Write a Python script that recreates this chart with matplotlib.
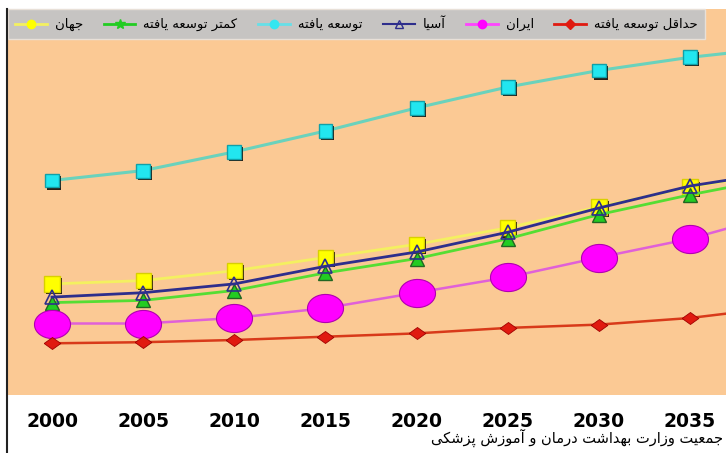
import numpy as np
import matplotlib
matplotlib.use("Agg")
import matplotlib.pyplot as plt
from matplotlib.lines import Line2D
import matplotlib.patheffects as pe

# share of population (percent)
years = [2000, 2005, 2010, 2015, 2020, 2025, 2030, 2035, 2040]
developed = [19.5, 20.4, 22.1, 24.0, 26.1, 28.0, 29.5, 30.7, 31.6]
asia = [8.9, 9.3, 10.1, 11.7, 13.0, 14.8, 17.0, 19.0, 20.3]
less_developed = [8.4, 8.6, 9.5, 11.1, 12.4, 14.2, 16.4, 18.2, 19.8]
world = [10.1, 10.4, 11.3, 12.5, 13.7, 15.2, 17.1, 18.9, 20.3]
iran = [6.5, 6.5, 7.0, 7.9, 9.3, 10.7, 12.5, 14.2, 16.5]
least_developed = [4.7, 4.8, 5.0, 5.3, 5.6, 6.1, 6.4, 7.0, 8.0]

tick_years = [2000, 2005, 2010, 2015, 2020, 2025, 2030, 2035]

lbl_world = "جهان"
lbl_less = "کمتر توسعه یافته"
lbl_dev = "توسعه یافته"
lbl_asia = "آسیا"
lbl_iran = "ایران"
lbl_least = "حداقل توسعه یافته"
source = "جمعیت وزارت بهداشت درمان و آموزش پزشکی"

# matplotlib has no RTL shaping, so pick presentation forms by hand
FORMS = {
    'ا': ('\uFE8D', '\uFE8E'), 'آ': ('\uFE81', '\uFE82'),
    'د': ('\uFEA9', '\uFEAA'), 'ر': ('\uFEAD', '\uFEAE'),
    'ز': ('\uFEAF', '\uFEB0'), 'و': ('\uFEED', '\uFEEE'),
    'ب': ('\uFE8F', '\uFE90', '\uFE91', '\uFE92'),
    'پ': ('\uFB56', '\uFB57', '\uFB58', '\uFB59'),
    'ت': ('\uFE95', '\uFE96', '\uFE97', '\uFE98'),
    'ج': ('\uFE9D', '\uFE9E', '\uFE9F', '\uFEA0'),
    'ح': ('\uFEA1', '\uFEA2', '\uFEA3', '\uFEA4'),
    'س': ('\uFEB1', '\uFEB2', '\uFEB3', '\uFEB4'),
    'ش': ('\uFEB5', '\uFEB6', '\uFEB7', '\uFEB8'),
    'ع': ('\uFEC9', '\uFECA', '\uFECB', '\uFECC'),
    'ف': ('\uFED1', '\uFED2', '\uFED3', '\uFED4'),
    'ق': ('\uFED5', '\uFED6', '\uFED7', '\uFED8'),
    'ک': ('\uFB8E', '\uFB8F', '\uFB90', '\uFB91'),
    'ل': ('\uFEDD', '\uFEDE', '\uFEDF', '\uFEE0'),
    'م': ('\uFEE1', '\uFEE2', '\uFEE3', '\uFEE4'),
    'ن': ('\uFEE5', '\uFEE6', '\uFEE7', '\uFEE8'),
    'ه': ('\uFEE9', '\uFEEA', '\uFEEB', '\uFEEC'),
    'ی': ('\uFBFC', '\uFBFD', '\uFBFE', '\uFBFF'),
}


def fa(s):
    out = []
    for i, ch in enumerate(s):
        f = FORMS.get(ch)
        if f is None:
            out.append(ch)
            continue
        prev = s[i - 1] if i > 0 else ''
        nxt = s[i + 1] if i + 1 < len(s) else ''
        jp = prev in FORMS and len(FORMS[prev]) == 4
        jn = len(f) == 4 and nxt in FORMS
        if len(f) == 2:
            out.append(f[1] if jp else f[0])
        elif jp and jn:
            out.append(f[3])
        elif jp:
            out.append(f[1])
        elif jn:
            out.append(f[2])
        else:
            out.append(f[0])
    return ''.join(out[::-1])


t = np.linspace(0, 2 * np.pi, 40)
ellipse = np.column_stack([np.cos(t), 0.78 * np.sin(t)])
diamond = [(-1, 0), (0, 0.72), (1, 0), (0, -0.72), (-1, 0)]

peach = '#fbc994'
shadow = [pe.SimplePatchShadow(offset=(1.5, -1.5), shadow_rgbFace='k', alpha=0.85), pe.Normal()]

fig = plt.figure(figsize=(7.26, 4.53), dpi=100)
ax = fig.add_axes([8 / 726, 1 - 395 / 453, 718 / 726, 386 / 453])
ax.set_facecolor(peach)

ax.plot(years, world, color='#f4f060', lw=2, zorder=2)
ax.plot(years, world, ls='none', marker='s', ms=11, mfc='#ffff00', mec='#d8d000',
        path_effects=shadow, zorder=2.1)

ax.plot(years, less_developed, color='#55dd33', lw=2, zorder=3)
ax.plot(years, less_developed, ls='none', marker='^', ms=10, mfc='#22cc22', mec='#226622',
        zorder=3.1)

ax.plot(years, asia, color='#2e2e8c', lw=2, zorder=4)
ax.plot(years, asia, ls='none', marker='^', ms=10, mfc='none', mec='#2e2e8c', mew=1.2,
        zorder=4.1)

ax.plot(years, iran, color='#e060d8', lw=1.8, zorder=5)
ax.plot(years, iran, ls='none', marker=ellipse, ms=26, mfc='#ff00ff', mec='#b000b0',
        mew=0.8, zorder=5.1)

ax.plot(years, least_developed, color='#d83a1a', lw=1.8, zorder=5)
ax.plot(years, least_developed, ls='none', marker=diamond, ms=12, mfc='#e01a10',
        mec='#a00000', mew=0.6, zorder=5.1)

ax.plot(years, developed, color='#6ad2bc', lw=2.2, zorder=6)
ax.plot(years, developed, ls='none', marker='s', ms=10, mfc='#22e6f0', mec='#11a0a8',
        path_effects=shadow, zorder=6.1)

ax.set_xlim(2000 - 44 / 18.23, 2000 + 674 / 18.23)
ax.set_ylim(0, 386 / 11)
ax.set_xticks(tick_years)
ax.set_xticklabels([str(y) for y in tick_years], fontsize=13.5, fontweight='bold')
ax.tick_params(axis='x', length=0, pad=12)
ax.set_yticks([])
for s in ax.spines.values():
    s.set_visible(False)

handles = [
    Line2D([], [], color='#f4f060', lw=2, marker='o', ms=6, mfc='#ffff00', mec='#ffff00'),
    Line2D([], [], color='#22cc22', lw=2, marker='*', ms=7, mfc='#22cc22', mec='#22cc22'),
    Line2D([], [], color='#66e0e8', lw=2, marker='o', ms=6, mfc='#33e6f0', mec='#33e6f0'),
    Line2D([], [], color='#2e2e8c', lw=1.5, marker='^', ms=6, mfc='none', mec='#2e2e8c'),
    Line2D([], [], color='#ff44ff', lw=2, marker='o', ms=6, mfc='#ff00ff', mec='#ff00ff'),
    Line2D([], [], color='#e01a10', lw=2, marker='D', ms=5, mfc='#e01a10', mec='#e01a10'),
]
labels = [fa(lbl_world), fa(lbl_less), fa(lbl_dev), fa(lbl_asia), fa(lbl_iran), fa(lbl_least)]
leg = ax.legend(handles, labels, ncol=6, loc='upper left',
                bbox_to_anchor=(0, 1, 697 / 718, 0), mode='expand', borderaxespad=0,
                fontsize=9.5, handlelength=2.4, handletextpad=0.6, columnspacing=0.8,
                borderpad=0.55, fancybox=False, framealpha=1)
leg.get_frame().set_facecolor('#c6c4c2')
leg.get_frame().set_edgecolor('#e8e0d8')

fig.add_artist(Line2D([7 / 726, 7 / 726], [0, 1 - 9 / 453], color='#222222', lw=1.5))
fig.text(723 / 726, 1 - 438 / 453, fa(source), fontsize=10.5, ha='right', va='center')

fig.savefig('out.png', dpi=100, facecolor='white')
